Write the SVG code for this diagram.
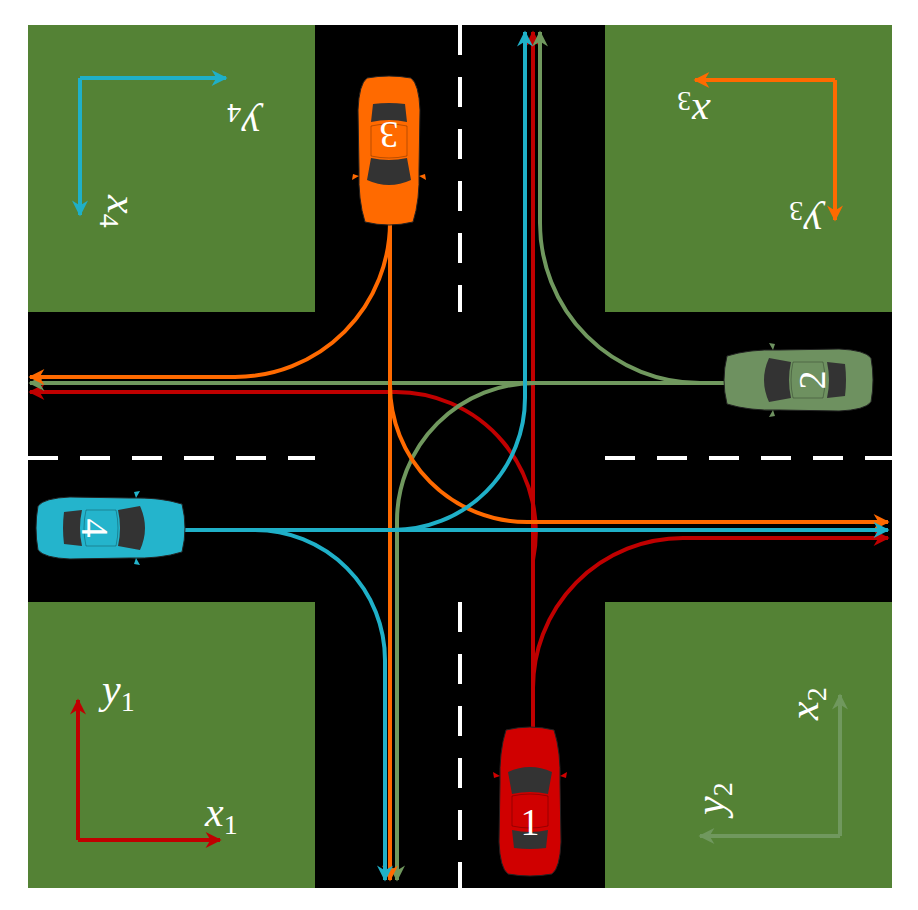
<svg xmlns="http://www.w3.org/2000/svg" width="918" height="910" viewBox="0 0 918 910">
<style>
.grass{fill:#548235}
.road{fill:#000}
.dash{stroke:#fff;stroke-width:4;stroke-dasharray:30 22;fill:none}
.p{fill:none;stroke-width:4}
.r{stroke:#c00000}.g{stroke:#70985e}.o{stroke:#ff6a00}.b{stroke:#1fb0c8}
.num{font-family:"Liberation Serif",serif;font-size:38px;fill:#fff;text-anchor:middle}
.lab{font-family:"Liberation Serif",serif;font-style:italic;font-size:42px;fill:#fff}
.sub{font-size:28px;font-style:normal}
</style>
<defs>
<marker id="mr" viewBox="0 0 10 10" refX="9" refY="5" markerWidth="5" markerHeight="4" orient="auto"><path d="M0,0L10,5L0,10L3,5z" fill="#c00000"/></marker>
<marker id="mg" viewBox="0 0 10 10" refX="9" refY="5" markerWidth="5" markerHeight="4" orient="auto"><path d="M0,0L10,5L0,10L3,5z" fill="#70985e"/></marker>
<marker id="mo" viewBox="0 0 10 10" refX="9" refY="5" markerWidth="5" markerHeight="4" orient="auto"><path d="M0,0L10,5L0,10L3,5z" fill="#ff6a00"/></marker>
<marker id="mb" viewBox="0 0 10 10" refX="9" refY="5" markerWidth="5" markerHeight="4" orient="auto"><path d="M0,0L10,5L0,10L3,5z" fill="#1fb0c8"/></marker>
<g id="car">
<path d="M-24,-72 Q0,-78 24,-72 Q31,-50 30,-20 L31,40 Q30,66 22,72 Q0,76 -22,72 Q-30,66 -31,40 L-30,-20 Q-31,-50 -24,-72z" fill="currentColor" stroke="#222" stroke-width="1"/>
<path d="M-22,-30 Q0,-40 22,-30 L18,-8 Q0,-12 -18,-8z" fill="#333"/>
<path d="M-18,-6 Q0,-10 18,-6 L18,24 Q0,28 -18,24z" fill="currentColor" stroke="#0004"/>
<path d="M-18,28 Q0,32 18,28 L16,46 Q0,48 -16,46z" fill="#333"/>
<path d="M-30,-26 l-7,-4 l1,6z M30,-26 l7,-4 l-1,6z" fill="currentColor"/>
</g>
</defs>
<rect width="918" height="910" fill="#fff"/>
<rect class="road" x="315" y="25" width="290" height="863"/>
<rect class="road" x="28" y="312" width="864" height="290"/>
<rect class="grass" x="28" y="25" width="287" height="287"/>
<rect class="grass" x="605" y="25" width="287" height="287"/>
<rect class="grass" x="28" y="602" width="287" height="286"/>
<rect class="grass" x="605" y="602" width="287" height="286"/>
<path class="dash" d="M460,25V312M460,602V888"/>
<path class="dash" d="M28,458H315M605,458H892"/>
<g id="connectors">
<path class="p r" d="M533,730V32" marker-end="url(#mr)"/>
<path class="p r" d="M533,560 A140,140 0 0 0 393,392 H30" marker-end="url(#mr)"/>
<path class="p r" d="M533,690 A150,150 0 0 1 683,538 H888" marker-end="url(#mr)"/>
<path class="p g" d="M730,383 H30" marker-end="url(#mg)"/>
<path class="p g" d="M700,383 A160,160 0 0 1 540,223 V32" marker-end="url(#mg)"/>
<path class="p g" d="M535,383 A138,138 0 0 0 397,521 V880" marker-end="url(#mg)"/>
<path class="p o" d="M390,222 V880" marker-end="url(#mo)"/>
<path class="p o" d="M390,222 A155,155 0 0 1 235,377 H30" marker-end="url(#mo)"/>
<path class="p o" d="M390,385 A137,137 0 0 0 527,522 H888" marker-end="url(#mo)"/>
<path class="p b" d="M182,530 H888" marker-end="url(#mb)"/>
<path class="p b" d="M255,530 A130,130 0 0 1 385,660 V880" marker-end="url(#mb)"/>
<path class="p b" d="M393,530 A132,132 0 0 0 525,398 V32" marker-end="url(#mb)"/>
</g>
<g id="car1"><use href="#car" transform="translate(530,802)" color="#d00000"/><text class="num" x="530" y="835">1</text></g>
<g id="car2"><use href="#car" transform="translate(799,380) rotate(-90)" color="#6e9160"/><text class="num" transform="translate(812,380) rotate(-90)" y="13">2</text></g>
<g id="car3"><use href="#car" transform="translate(389,150) rotate(180)" color="#ff6a00"/><text class="num" transform="translate(389,135) rotate(180)" y="13">3</text></g>
<g id="car4"><use href="#car" transform="translate(110,528) rotate(90)" color="#24b4cc"/><text class="num" transform="translate(95,528) rotate(90)" y="13">4</text></g>
<g id="frame1" fill="none" stroke="#c00000" stroke-width="4">
<path d="M78,840V700" marker-end="url(#mr)"/><path d="M78,840H220" marker-end="url(#mr)"/>
</g>
<text class="lab" x="102" y="703">y<tspan class="sub" dy="8">1</tspan></text>
<text class="lab" x="205" y="826">x<tspan class="sub" dy="8">1</tspan></text>
<g id="frame2" fill="none" stroke="#70985e" stroke-width="4"><path d="M840,836V695" marker-end="url(#mg)"/><path d="M840,836H700" marker-end="url(#mg)"/></g>
<text class="lab" transform="translate(818,720) rotate(-90)">x<tspan class="sub" dy="8">2</tspan></text>
<text class="lab" transform="translate(724,815) rotate(-90)">y<tspan class="sub" dy="8">2</tspan></text>
<g id="frame3" fill="none" stroke="#ff6a00" stroke-width="4"><path d="M835,80H695" marker-end="url(#mo)"/><path d="M835,80V220" marker-end="url(#mo)"/></g>
<text class="lab" transform="translate(710,100) rotate(180)">x<tspan class="sub" dy="8">3</tspan></text>
<text class="lab" transform="translate(822,210) rotate(180)">y<tspan class="sub" dy="8">3</tspan></text>
<g id="frame4" fill="none" stroke="#1fb0c8" stroke-width="4"><path d="M80,78H226" marker-end="url(#mb)"/><path d="M80,78V215" marker-end="url(#mb)"/></g>
<text class="lab" transform="translate(260,112) rotate(180)">y<tspan class="sub" dy="8">4</tspan></text>
<text class="lab" transform="translate(108,195) rotate(90)">x<tspan class="sub" dy="8">4</tspan></text>
</svg>
